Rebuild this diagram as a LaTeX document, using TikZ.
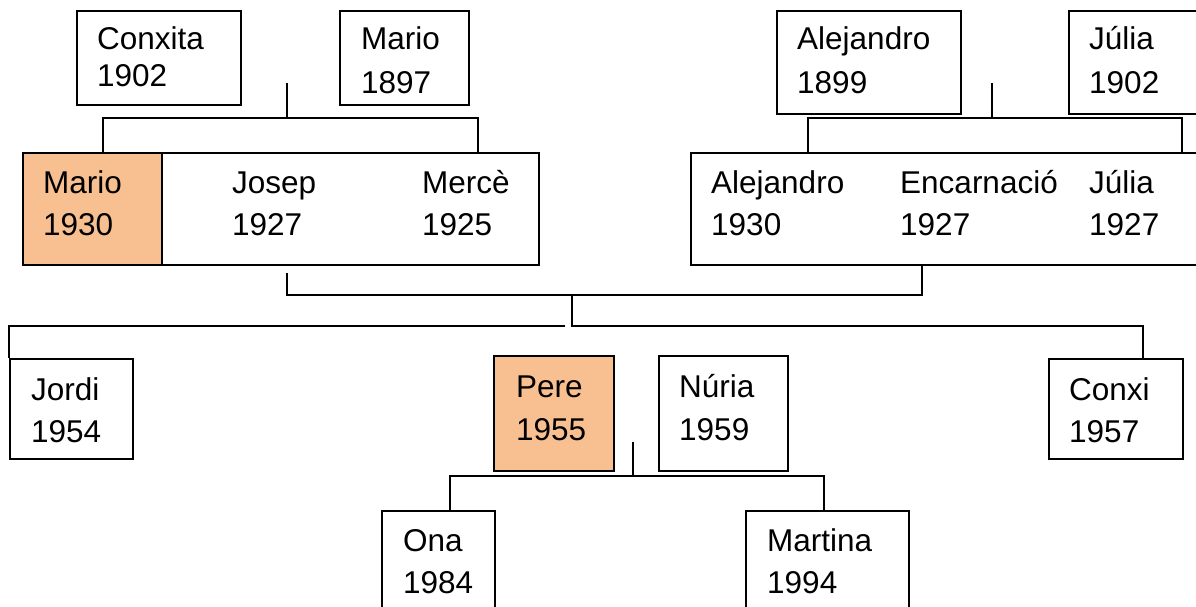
\documentclass[tikz,border=0pt]{standalone}
\usepackage{fontspec}
\setmainfont{Liberation Sans}
\definecolor{famorange}{RGB}{248,192,144}
\tikzset{
  box/.style={draw, line width=1.8pt, inner sep=0pt, anchor=north west, fill=white},
  hero/.style={box, fill=famorange},
  lbl/.style={inner sep=0pt, anchor=base west, font=\fontsize{31.5}{38}\selectfont},
  conn/.style={line width=1.8pt},
}
\newcommand\famtext[6]{%
  \node[lbl] (#1a) at (#2,#3) {#5};
  \node[lbl] (#1b) at (#2,#4) {#6};}
\begin{document}
\begin{tikzpicture}[x=1pt,y=-1pt]
\useasboundingbox (0,0) rectangle (1196,607);
\clip (0,0) rectangle (1196,607);
\fill[white] (0,0) rectangle (1196,607);
% boxes
\node[box, minimum width=164pt, minimum height=94pt] (conxita) at (76,10) {};
\node[box, minimum width=129pt, minimum height=94pt] (mario97) at (339,10) {};
\node[box, minimum width=184pt, minimum height=103pt] (alej99) at (776,10) {};
\node[box, minimum width=200pt, minimum height=103pt] (julia02) at (1068,10) {};
\node[box, minimum width=516pt, minimum height=112pt] (fam1) at (22,152) {};
\node[hero, minimum width=139pt, minimum height=112pt] (mario30) at (22,152) {};
\node[box, minimum width=560pt, minimum height=112pt] (fam2) at (690,152) {};
\node[box, minimum width=123pt, minimum height=100pt] (jordi) at (9,358) {};
\node[hero, minimum width=120pt, minimum height=115pt] (pere) at (493,355) {};
\node[box, minimum width=129pt, minimum height=115pt] (nuria) at (658,355) {};
\node[box, minimum width=134pt, minimum height=100pt] (conxi) at (1048,358) {};
\node[box, minimum width=113pt, minimum height=150pt] (ona) at (381,510) {};
\node[box, minimum width=163pt, minimum height=150pt] (martina) at (745,510) {};
% texts
\famtext{tconxita}{97}{50}{87}{Conxita}{1902}
\famtext{tmario97}{361}{50}{94}{Mario}{1897}
\famtext{talej99}{797}{50}{94}{Alejandro}{1899}
\famtext{tjulia02}{1089}{50}{94}{Júlia}{1902}
\famtext{tmario30}{43}{193}{235}{Mario}{1930}
\famtext{tjosep}{232}{193}{235}{Josep}{1927}
\famtext{tmerce}{422}{193}{235}{Mercè}{1925}
\famtext{talej30}{711}{193}{235}{Alejandro}{1930}
\famtext{tencarna}{900}{193}{235}{Encarnació}{1927}
\famtext{tjulia27}{1089}{193}{235}{Júlia}{1927}
\famtext{tjordi}{31}{400}{442}{Jordi}{1954}
\famtext{tpere}{516}{397}{440}{Pere}{1955}
\famtext{tnuria}{679}{397}{440}{Núria}{1959}
\famtext{tconxi}{1069}{400}{442}{Conxi}{1957}
\famtext{tona}{403}{551}{593}{Ona}{1984}
\famtext{tmartina}{767}{551}{593}{Martina}{1994}
% connector points
\coordinate (c1T) at (287,83);
\coordinate (c1M) at (287,118);
\coordinate (c1L) at (103,152);
\coordinate (c1R) at (478,152);
\coordinate (c2T) at (992,83);
\coordinate (c2M) at (992,118);
\coordinate (c2L) at (808,152);
\coordinate (c2R) at (1182,152);
\coordinate (c3L) at (287,273);
\coordinate (c3M) at (572,295);
\coordinate (c3R) at (922,264);
\coordinate (c4M) at (572,326);
\coordinate (c4G) at (565,326);
\coordinate (c4L) at (9,358);
\coordinate (c4R) at (1143,358);
\coordinate (c5T) at (633,442);
\coordinate (c5M) at (633,476);
\coordinate (c5L) at (450,510);
\coordinate (c5R) at (824,510);
% connectors
\draw[conn] (c1T) -- (c1M);
\draw[conn] (c1L) |- (c1M) -| (c1R);
\draw[conn] (c2T) -- (c2M);
\draw[conn] (c2L) |- (c2M) -| (c2R);
\draw[conn] (c3L) |- (c3M) -| (c3R);
\draw[conn] (c3M) -- (c4M) -| (c4R);
\draw[conn] (c4G) -| (c4L);
\draw[conn] (c5T) -- (c5M);
\draw[conn] (c5L) |- (c5M) -| (c5R);
\end{tikzpicture}
\end{document}
